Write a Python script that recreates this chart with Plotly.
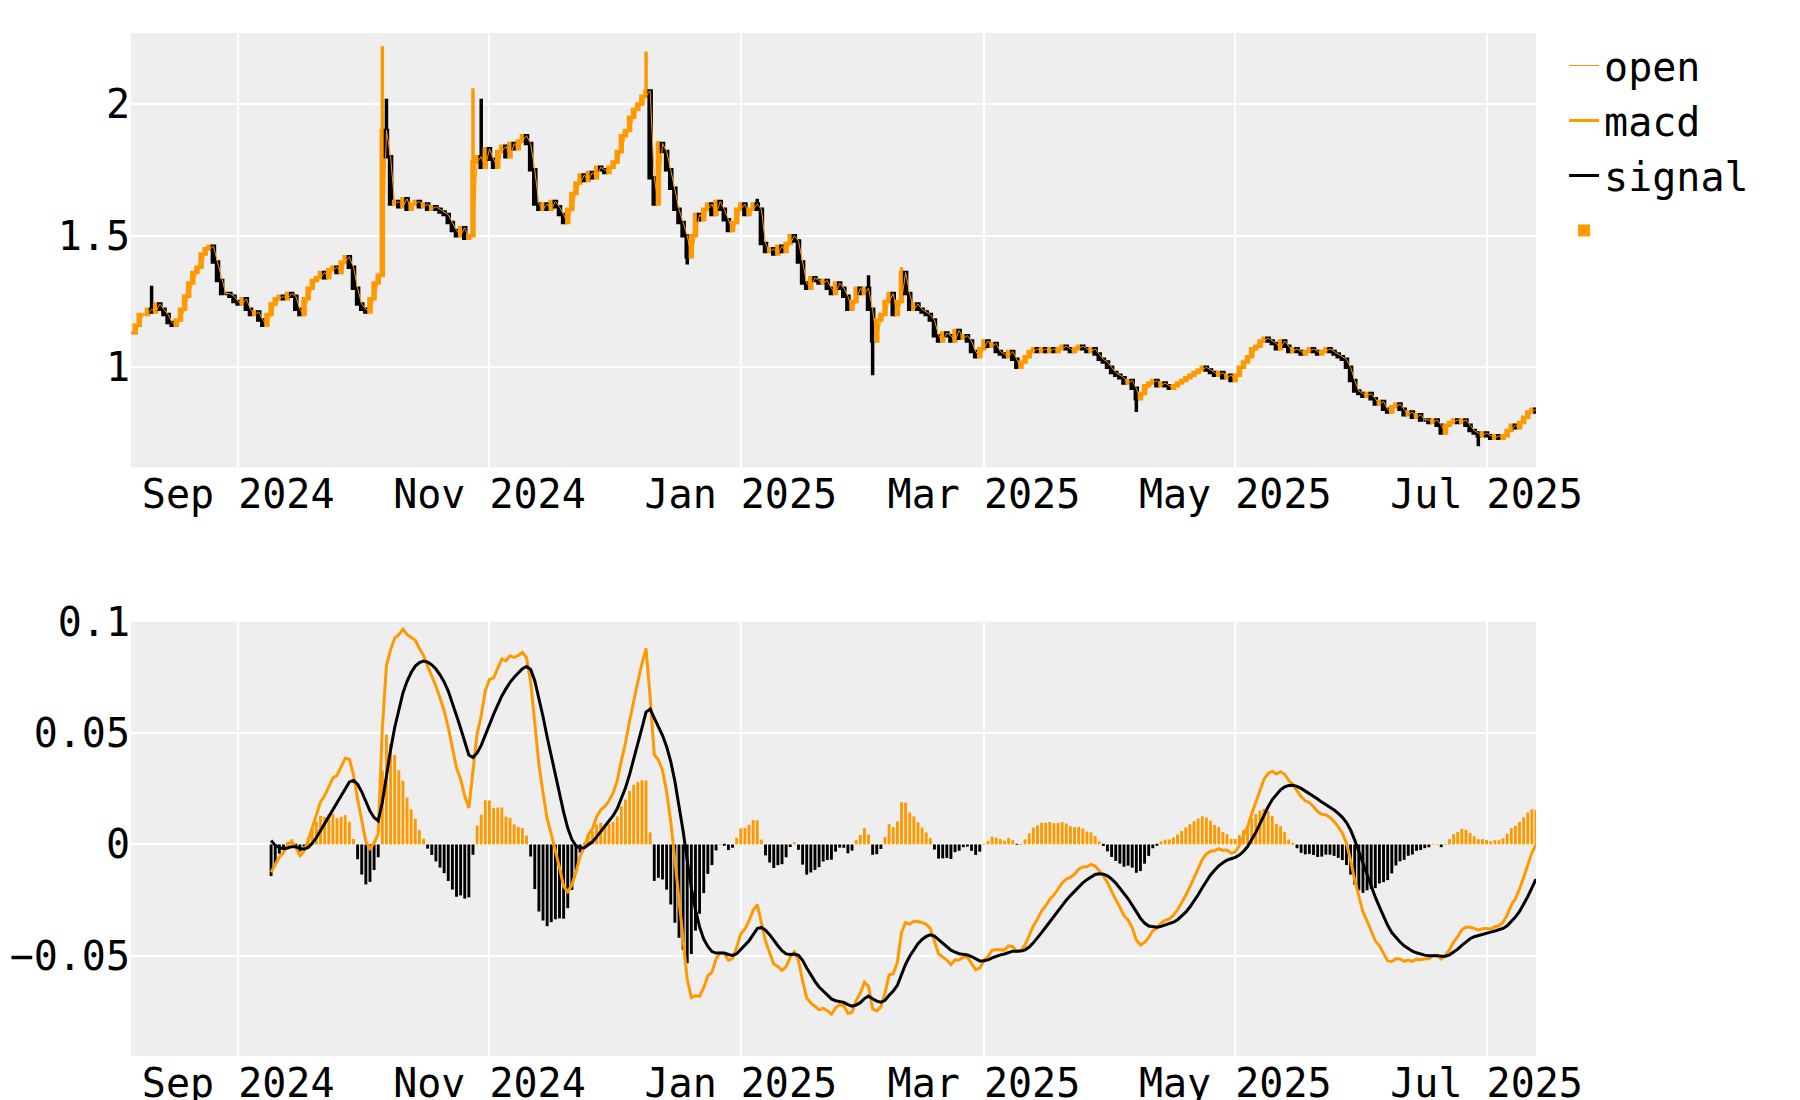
import pandas as pd
import plotly.graph_objects as go
from plotly.subplots import make_subplots

# daily closes, Aug 6 2024 .. Jul 13 2025
close_aug = [1.13, 1.16, 1.2, 1.2, 1.22, 1.21, 1.24, 1.22, 1.2, 1.17, 1.16, 1.18, 1.22, 1.27, 1.32, 1.36,
             1.38, 1.43, 1.45, 1.46, 1.4, 1.33, 1.28, 1.28, 1.27, 1.25]
close_sep = [1.24, 1.26, 1.22, 1.2, 1.21, 1.18, 1.16, 1.2, 1.24, 1.26, 1.27, 1.26, 1.28, 1.27, 1.22, 1.2,
             1.26, 1.3, 1.33, 1.34, 1.36, 1.34, 1.37, 1.38, 1.36, 1.4, 1.42, 1.38, 1.3, 1.24]
close_oct = [1.22, 1.21, 1.26, 1.32, 1.35, 1.9, 1.8, 1.62, 1.63, 1.61, 1.64, 1.6, 1.62, 1.63, 1.61, 1.62,
             1.6, 1.61, 1.6, 1.59, 1.58, 1.55, 1.52, 1.5, 1.53, 1.49, 1.5, 1.78, 1.8, 1.76, 1.83]
close_nov = [1.79, 1.76, 1.82, 1.84, 1.8, 1.85, 1.83, 1.86, 1.88, 1.85, 1.75, 1.62, 1.6, 1.62, 1.6, 1.63,
             1.61, 1.58, 1.55, 1.6, 1.66, 1.7, 1.73, 1.71, 1.74, 1.72, 1.76, 1.75, 1.74, 1.76]
close_dec = [1.78, 1.82, 1.88, 1.9, 1.95, 1.98, 2.0, 2.03, 2.05, 1.72, 1.62, 1.85, 1.82, 1.75, 1.68, 1.6,
             1.55, 1.5, 1.42, 1.5, 1.58, 1.56, 1.6, 1.62, 1.58, 1.63, 1.6, 1.56, 1.52, 1.55, 1.6]
close_jan = [1.62, 1.58, 1.6, 1.62, 1.6, 1.47, 1.44, 1.45, 1.43, 1.46, 1.44, 1.47, 1.5, 1.48, 1.4, 1.32,
             1.3, 1.34, 1.33, 1.32, 1.33, 1.3, 1.28, 1.32, 1.3, 1.27, 1.22, 1.25, 1.3, 1.28, 1.3]
close_feb = [1.22, 1.1, 1.18, 1.2, 1.25, 1.28, 1.2, 1.25, 1.36, 1.28, 1.22, 1.24, 1.22, 1.21, 1.2, 1.18,
             1.12, 1.1, 1.13, 1.12, 1.1, 1.14, 1.11, 1.12, 1.1, 1.06, 1.04, 1.07]
close_mar = [1.1, 1.08, 1.09, 1.06, 1.05, 1.04, 1.06, 1.03, 1.0, 1.02, 1.04, 1.06, 1.07, 1.06, 1.07, 1.06,
             1.07, 1.06, 1.07, 1.08, 1.07, 1.06, 1.07, 1.08, 1.07, 1.06, 1.07, 1.05, 1.03, 1.02, 1.0]
close_apr = [0.98, 0.97, 0.96, 0.94, 0.95, 0.92, 0.88, 0.9, 0.93, 0.94, 0.95, 0.93, 0.94, 0.93, 0.92, 0.93,
             0.94, 0.95, 0.96, 0.97, 0.98, 0.99, 1.0, 0.99, 0.98, 0.97, 0.98, 0.96, 0.97, 0.95]
close_may = [0.97, 1.0, 1.02, 1.04, 1.07, 1.08, 1.1, 1.11, 1.1, 1.09, 1.07, 1.1, 1.08, 1.06, 1.07, 1.06,
             1.05, 1.06, 1.07, 1.06, 1.05, 1.06, 1.07, 1.06, 1.05, 1.04, 1.03, 1.0, 0.95, 0.91, 0.9]
close_jun = [0.89, 0.9, 0.88, 0.86, 0.87, 0.84, 0.83, 0.85, 0.86, 0.84, 0.82, 0.83, 0.81, 0.82, 0.8, 0.8,
             0.79, 0.8, 0.78, 0.75, 0.78, 0.79, 0.8, 0.79, 0.8, 0.78, 0.76, 0.75, 0.74, 0.75]
close_jul = [0.74, 0.73, 0.74, 0.73, 0.74, 0.76, 0.78, 0.77, 0.79, 0.81, 0.83, 0.84, 0.83]

# long wicks visible on the chart (date -> high / low)
wick_high = {"2024-10-06": 2.22, "2024-10-07": 2.02, "2024-10-28": 2.06, "2024-10-30": 2.02,
             "2024-12-09": 2.2, "2024-12-12": 1.86, "2025-01-05": 1.64, "2025-02-01": 1.35,
             "2025-02-09": 1.38, "2024-08-11": 1.31}
wick_low = {"2025-02-02": 0.97, "2024-12-19": 1.39, "2025-04-07": 0.83, "2025-06-29": 0.7}

close = (close_aug + close_sep + close_oct + close_nov + close_dec + close_jan + close_feb
         + close_mar + close_apr + close_may + close_jun + close_jul)
dates = pd.date_range("2024-08-06", periods=len(close), freq="D")

df = pd.DataFrame({"close": close}, index=dates)
df["open"] = df["close"].shift(1).fillna(df["close"].iloc[0])
df["high"] = df[["open", "close"]].max(axis=1)
df["low"] = df[["open", "close"]].min(axis=1)
for d, v in wick_high.items():
    df.loc[d, "high"] = v
for d, v in wick_low.items():
    df.loc[d, "low"] = v

ema12 = df["close"].ewm(span=12, adjust=False).mean()
ema26 = df["close"].ewm(span=26, adjust=False).mean()
macd = ema12 - ema26
signal = macd.ewm(span=9, adjust=False).mean()
hist = macd - signal
macd[:34] = None
signal[:34] = None
hist[:34] = None

ORANGE = "#ff9900"
FONT = "DejaVu Sans Mono"

fig = make_subplots(rows=2, cols=1, vertical_spacing=0.151)
fig.add_trace(go.Candlestick(x=dates, open=df["open"], high=df["high"], low=df["low"], close=df["close"],
                             increasing=dict(line=dict(color=ORANGE, width=3.5), fillcolor=ORANGE),
                             decreasing=dict(line=dict(color="black", width=3.5), fillcolor="black"),
                             showlegend=False), row=1, col=1)
fig.add_trace(go.Scatter(x=dates, y=df["open"], mode="lines", name="open",
                         line=dict(color=ORANGE, width=1)), row=1, col=1)
fig.add_trace(go.Scatter(x=dates, y=macd, mode="lines", name="macd",
                         line=dict(color=ORANGE, width=3)), row=2, col=1)
fig.add_trace(go.Scatter(x=dates, y=signal, mode="lines", name="signal",
                         line=dict(color="black", width=3)), row=2, col=1)
fig.add_trace(go.Bar(x=dates, y=hist, name="",
                     marker=dict(color=["black" if pd.notna(v) and v < 0 else ORANGE for v in hist],
                                 line_width=0)),
              row=2, col=1)

xr = ["2024-08-06", "2025-07-13"]
fig.update_xaxes(range=xr, dtick="M2", tick0="2024-09-01", tickformat="%b %Y", showgrid=True,
                 gridcolor="white", gridwidth=2, rangeslider_visible=False, ticks="")
fig.update_yaxes(showgrid=True, gridcolor="white", gridwidth=2, zeroline=False)
fig.update_yaxes(range=[0.62, 2.27], tickvals=[1, 1.5, 2], ticktext=["1", "1.5", "2"], row=1, col=1)
fig.update_yaxes(range=[-0.095, 0.1], tickvals=[-0.05, 0, 0.05, 0.1], ticktext=["−0.05", "0", "0.05", "0.1"],
                 zeroline=True, zerolinecolor="white", zerolinewidth=2, row=2, col=1)

fig.update_layout(
    width=1800, height=1100,
    margin=dict(l=111, r=272, t=2, b=48),
    plot_bgcolor="#eeeeee", paper_bgcolor="white",
    font=dict(family=FONT, size=40, color="black"),
    bargap=0.3,
    legend=dict(x=1.02, y=1.0, xanchor="left", yanchor="top", bgcolor="rgba(0,0,0,0)",
                font=dict(size=40), tracegroupgap=20),
)

fig.write_html("out.html")
